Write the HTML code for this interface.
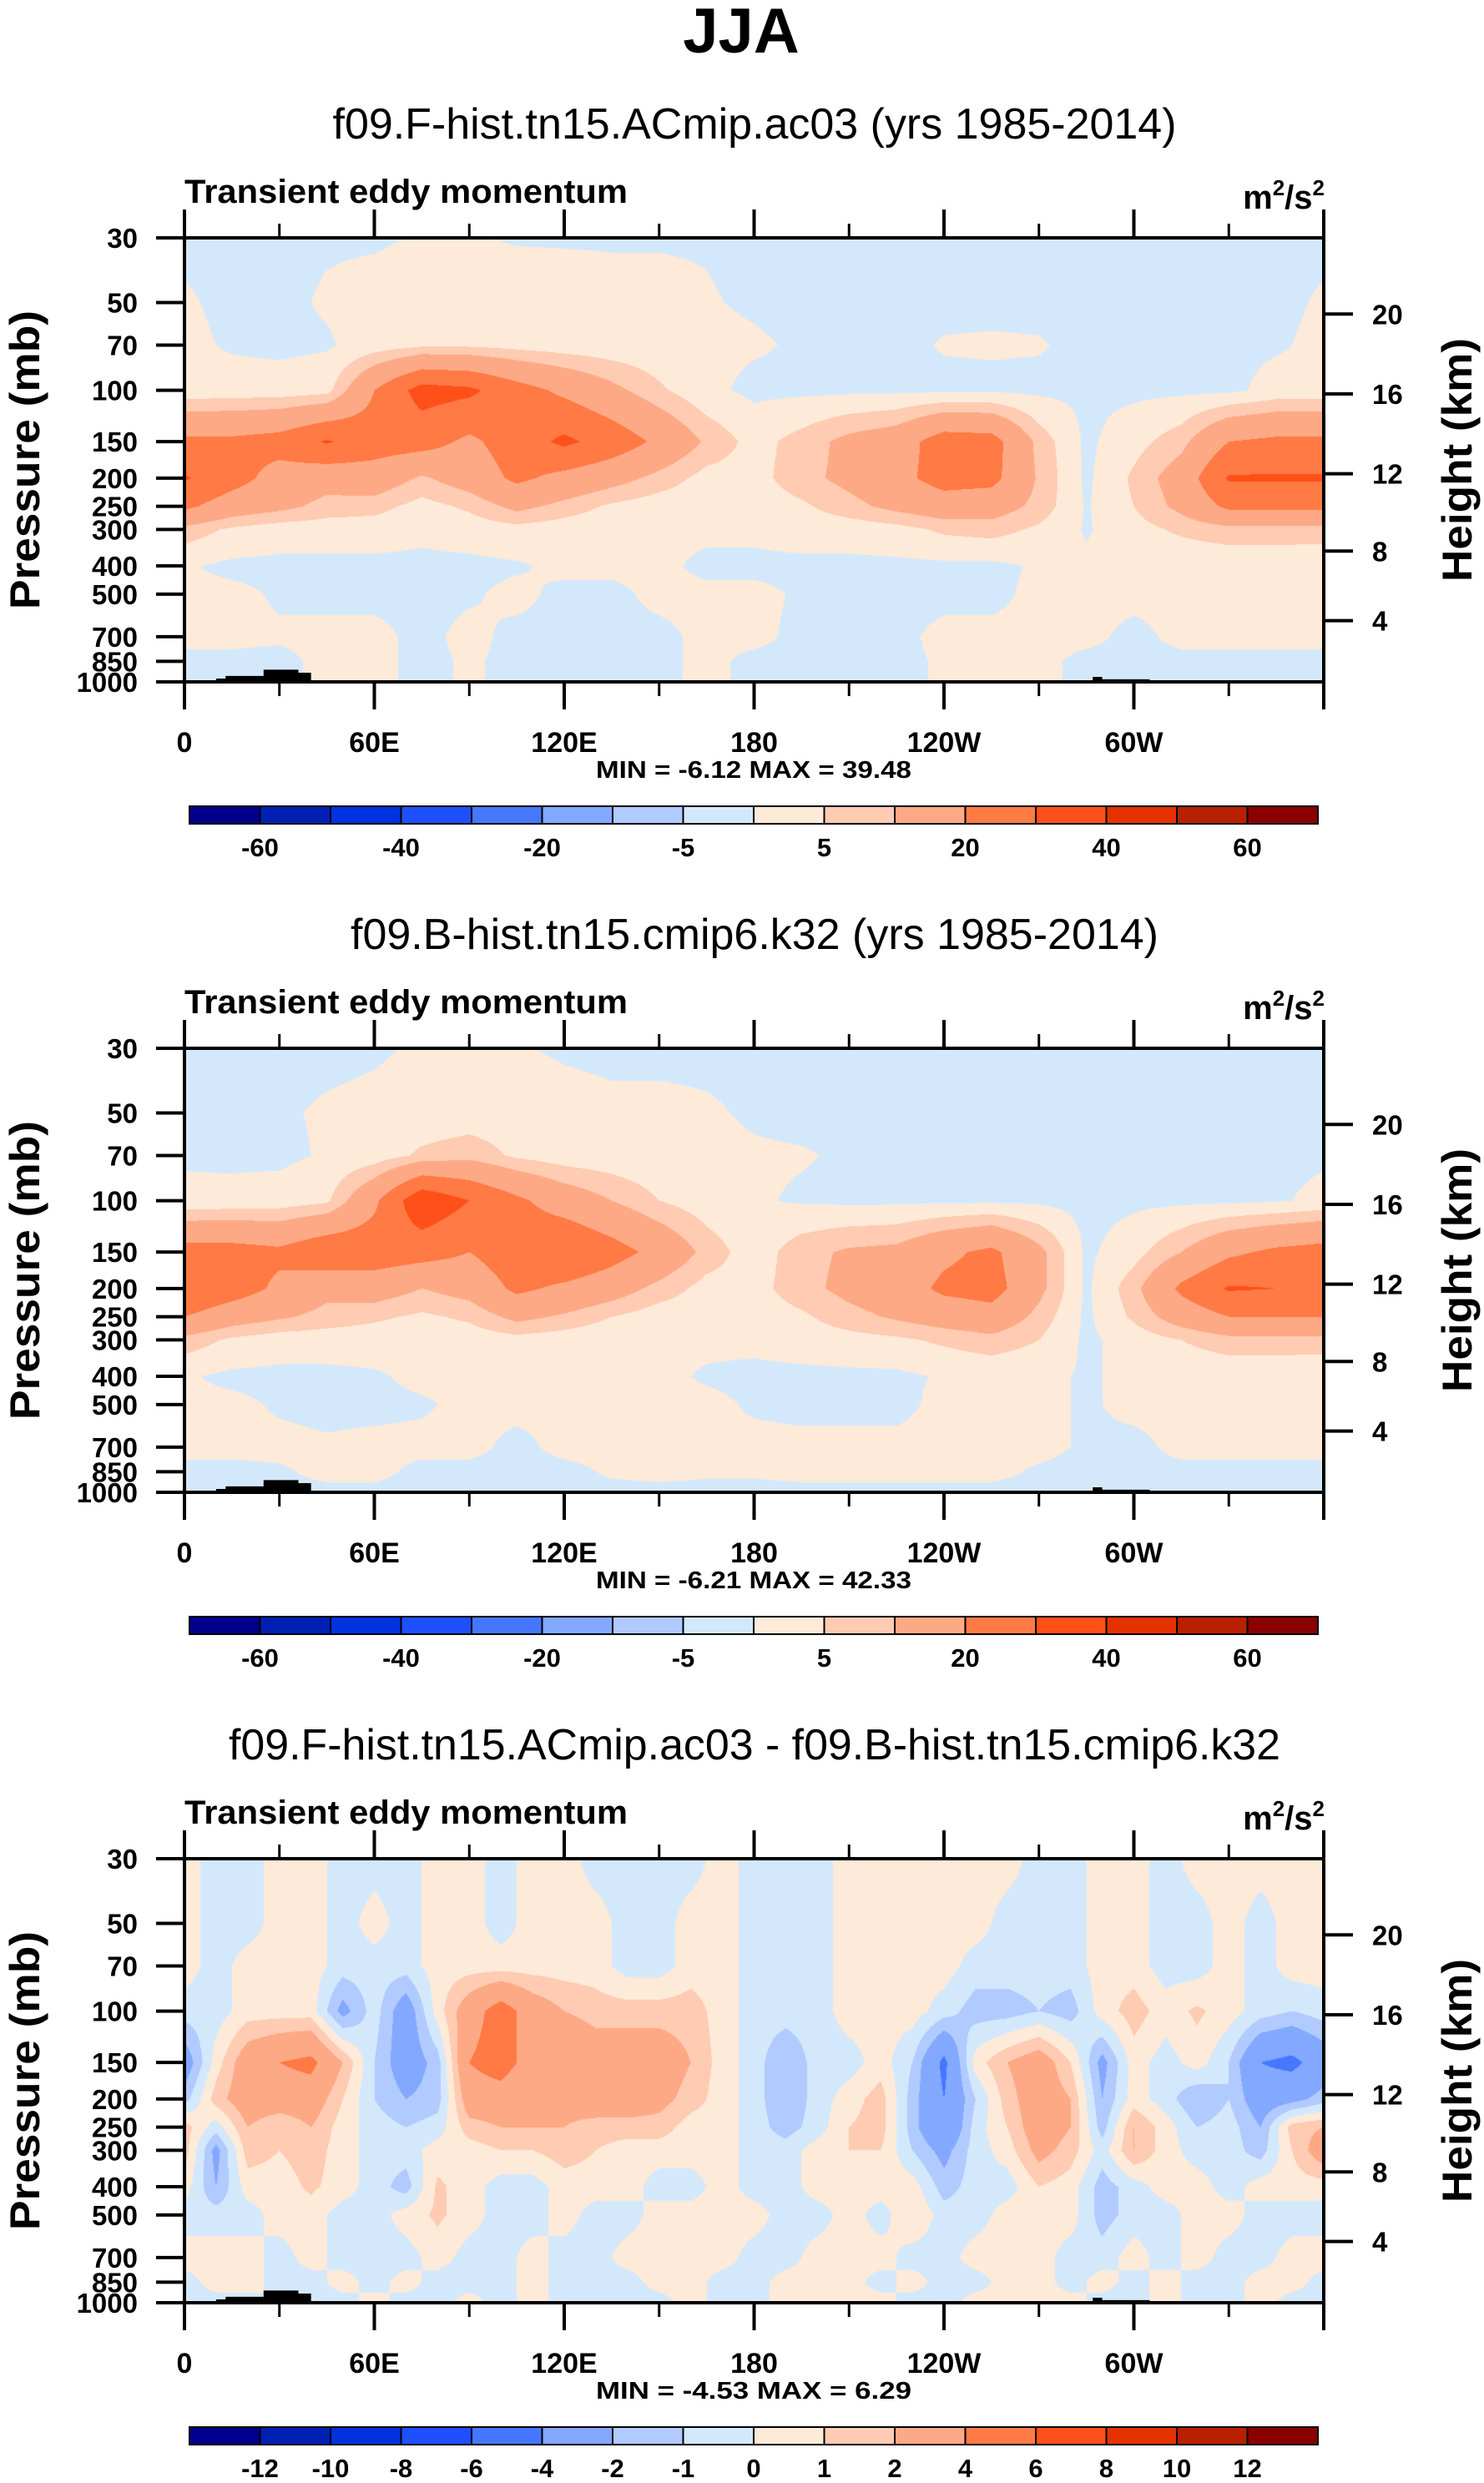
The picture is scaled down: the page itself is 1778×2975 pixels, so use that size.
<!DOCTYPE html>
<html><head><meta charset="utf-8"><style>
html,body{margin:0;padding:0;background:#fff;}
#wrap{position:relative;width:1778px;height:2975px;overflow:hidden;background:#fff;}
canvas{position:absolute;}
svg{position:absolute;left:0;top:0;}
</style></head><body>
<div id="wrap">
<svg id="ov" width="1778" height="2975" xmlns="http://www.w3.org/2000/svg">
<text x="888" y="63" text-anchor="middle" font-family="Liberation Sans, sans-serif" font-weight="bold" font-size="76">JJA</text>
</svg>
</div>
<script>
const levelsP = [30,50,70,100,150,200,250,300,400,500,700,850,1000];
const pressureTicks = [30,50,70,100,150,200,250,300,400,500,700,850,1000];
const heightTicks = [4,8,12,16,20];
const lonMajor = [0,60,120,180,240,300,360];
const lonMajorLabels = ["0","60E","120E","180","120W","60W",""];
const lonMinor = [30,90,150,210,270,330];
const colors = ["#00008c","#0020b4","#0032e0","#1e50ff","#4678ff","#82a8ff","#b1caff","#d4e8fc","#feead8","#ffcbb3","#fea985","#ff7a45","#ff5019","#e53200","#b82000","#8b0000"];
const levelsAbs = [-60,-50,-40,-30,-20,-10,-5,0,5,10,20,30,40,50,60];
const labelsAbs = ["-60","","-40","","-20","","-5","","5","","20","","40","","60"];
const levelsDiff = [-12,-10,-8,-6,-4,-2,-1,0,1,2,4,6,8,10,12];
const labelsDiff = ["-12","-10","-8","-6","-4","-2","-1","0","1","2","4","6","8","10","12"];
const subtitles = ["f09.F-hist.tn15.ACmip.ac03 (yrs 1985-2014)","f09.B-hist.tn15.cmip6.k32 (yrs 1985-2014)","f09.F-hist.tn15.ACmip.ac03 - f09.B-hist.tn15.cmip6.k32"];
const subtitleWidths = [1011, 968, 1260];
const minMaxText = ["MIN =  -6.12  MAX =  39.48","MIN =  -6.21  MAX =  42.33","MIN =  -4.53  MAX =   6.29"];
const topoLon = [10,13,25,36,40,41,100,103,287,290,305];
const topoP =   [974,954,908,930,1000,1000,990,1000,961,980,1000];

const field1 = [
[-1,-1,-1,-0.5,-0.5,0.3,0.3,-0.3,-0.3,-0.3,-0.3,-0.3,-1,-1,-1,-1,-1,-1,-1,-1,-1,-1,-1,-1,-1],
[0.5,-1,-1,0.5,1.5,2,2,2,1.5,1,1,0.3,-0.5,-1,-1,-1,-1,-1,-1,-1,-1,-1,-1,-1,0.5],
[1,-0.5,-1,-0.5,2,4,4,3,2,1.5,1,1,0.5,-0.5,-1,-1,0.3,0.5,0.3,-1,-1,-1,-1,-0.5,1],
[1.5,2,2,3,20,34,32,24,18,12,6,1,-1,-1,-1,-1,-1,-1,-1,-1,-1,-1,-1,1.5,1.5],
[22,22,24,31,25,24,18,25,32,26,18,9,3,7,12,15,25,24,8,-1,3,8,20,22,22],
[31,24,16,13,15,9,14,22,17,13,8,3,3,8,12,17,24,23,9,-1,6,14,31,31,31],
[22,15,12,8,7,3,6,12,8,4,2,2,2,4,8,12,15,14,8,-0.5,5,12,22,22,22],
[8,4,2,2,2,1,2,3,2,1,1,1,1,2,2,3,6,7,4,-0.5,3,6,8,8,8],
[0.5,-1,-1,-1,-1,-1,-1,-0.5,1,1,1,-1,-1,-1,-1,-1,-1,-1,0.5,1,1,1,1,1,0.5],
[1,1,-0.5,-1,-1,-1,-0.5,1,-1,-1,1,1,1,-0.5,-1,-1,-1,-1,1,1,1,1,1,1,1],
[1,1,0.5,1,1,-1,1,-1,-1,-1,-1,1,1,-1,-1,-1,1,1,1,1,-1,1,1,1,1],
[-1,-1,-1,1,1,-1,0.5,-1,-1,-1,-1,1,-1,-1,-1,-1,0.5,1,1,-1,-1,-1,-1,-1,-1],
[-1,-1,-1,1,1,-1,0.5,-1,-1,-1,-1,1,-1,-1,-1,-1,0.5,1,1,-1,-1,-1,-1,-1,-1]
];
const field2 = [
[-1,-1,-1,-1,-0.5,0.5,0.5,0.3,-0.5,-1,-1,-1,-1,-1,-1,-1,-1,-1,-1,-1,-1,-1,-1,-1,-1],
[-1,-1,-0.5,0.5,1,1.5,2,2,1.5,1,1,0.5,-0.5,-1,-1,-1,-1,-1,-1,-1,-1,-1,-1,-1,-1],
[-0.5,-1,-1,0.5,2,6,8,4,2,1.5,1,1,0.5,0.3,-0.5,-1,-1,-1,-1,-1,-1,-1,-1,-1,-0.5],
[1,1.5,2,4,18,38,30,22,15,10,5,2,0.5,-0.5,-1,-1,-1,-1,-1,-1.5,-1,-1,-1,-0.5,1],
[24,24,22,28,26,24,20,26,30,24,17,8,2,8,11,12,18,22,12,-1,3,10,18,22,24],
[30,25,18,12,14,10,13,22,18,14,8,3,3,8,12,15,22,24,12,-1,8,22,31,30,30],
[20,14,11,8,6,4,6,12,9,5,2,2,2,4,8,11,14,16,8,-1,6,14,20,20,20],
[8,4,2,2,2,1.5,2,3,2,1,1,1,1,2,3,4,6,8,5,-1,2,5,8,8,8],
[0.5,-1,-1,-1,-0.5,1,1,0.5,1,1,1,-0.5,-1,-1,-1,-1,0.5,1,1,-0.5,1,1,1,1,0.5],
[1,1,-0.5,-1,-1,-0.5,1,1,1,1,1,1,-0.5,-1,-1,-1,1,1,1,-0.5,1,1,1,1,1],
[1,1,1,0.5,1,1,1,-1,1,1,1,1,1,1,1,1,1,1,1,-0.5,-1,1,1,1,1],
[-1,-1,-0.5,1,1,-1,-1,-1,-1,0.5,1,0.5,0.5,1,1,1,1,1,-0.5,-1,-1,-1,-1,-1,-1],
[-1,-1,-1,-1,-1,-1,-1,-1,-1,-1,-1,-1,-1,-1,-1,-1,-1,-1,-1,-1,-1,-1,-1,-1,-1]
];
const field3 = [
[0.5,-0.5,-0.5,0.5,0.5,-0.5,-0.5,-0.5,0.5,0.5,-0.5,0.5,0.5,-0.5,-0.5,-0.5,-0.5,0.5,-0.5,-0.5,-0.5,0.5,0.5,0.5,0.5,0.5,0.5,-0.5,-0.5,0.5,0.5,-0.5,0.5,0.5,0.5,0.5,0.5],
[0.5,-0.5,-0.5,0.5,0.5,-0.5,0.5,-0.5,0.5,0.5,-0.5,0.5,0.5,0.5,-0.5,-0.5,0.5,0.5,-0.5,-0.5,-0.5,0.5,0.5,0.5,0.5,0.5,-0.5,-0.5,-0.5,0.5,0.5,-0.5,-0.5,0.5,-0.5,0.5,0.5],
[0.5,-0.5,0.5,0.5,0.5,-0.5,-0.5,-0.5,0.5,0.5,0.5,0.5,0.5,0.5,-0.5,-0.5,0.5,0.5,-0.5,-0.5,-0.5,0.5,0.5,0.5,0.5,-0.5,-0.5,-0.5,-0.5,0.5,0.5,-0.5,-0.5,0.5,-0.5,0.5,0.5],
[-0.5,-0.5,0.5,0.5,0.5,-2.5,-0.5,-3,0.5,3,5,3,2,1.5,1.5,1.5,1.5,0.5,-0.5,-0.5,-0.5,0.5,0.5,0.5,-0.5,-1.5,-1.5,-1,-1.5,0.5,1.5,0.5,1.2,0.5,-0.5,-1,-0.5],
[-3,0.5,3,4,4.5,2,-1,-3,-1.5,4,5,3,4,3,3,3,2,0.5,-0.5,-2,-0.5,-0.5,0.5,-1,-4.5,0.5,2,3,1,-2.5,0.5,-0.5,0.5,-1,-4,-4.5,-3],
[-1.5,1.5,3,3,3,1,-1,-2,-1.5,3,3,2,2.5,3,3,2.5,1.5,0.5,-0.5,-2,-0.5,0.5,1.5,-1.5,-4,-1,1.5,3,2,-2,0.5,-0.5,-2,-1,-3,-2.5,-1.5],
[1.5,-0.5,2,1,2,0.5,-0.5,-1,-0.5,1.5,2,2,2,1.5,1.5,1.5,0.5,0.5,-0.5,-1.5,-0.5,1,1.5,-1.5,-4,-0.5,1,3,2,-1.5,2,0.5,-1,-0.5,-2,1.5,2],
[1.5,-2.5,1.5,1,1.5,0.5,-0.5,-0.5,0.5,0.5,1,1,1.5,1,0.5,0.5,0.5,0.5,-0.5,-0.5,0.5,1,1,-1,-2.5,-0.5,0.5,2.5,1.5,-0.5,2,0.5,-0.5,-0.5,-1.5,1,3],
[0.5,-2,0.5,0.5,1.2,0.5,-0.5,-1.5,1.2,0.5,-0.5,-0.5,0.5,0.5,0.5,-0.5,-0.5,0.5,-0.5,-0.5,0.5,0.5,0.5,0.5,-1.5,-0.5,-0.5,1,0.5,-1.5,-0.5,0.5,0.5,-0.5,0.5,0.5,0.5],
[-0.5,-0.5,-0.5,0.5,0.5,-0.5,-0.5,0.5,1.2,0.5,-0.5,-0.5,0.5,-0.5,-0.5,0.5,0.5,0.5,0.5,-0.5,-0.5,0.5,-0.5,1,-0.5,-0.5,0.5,0.5,0.5,-1.5,-0.5,-0.5,0.5,0.5,-0.5,-0.5,-0.5],
[0.5,0.5,0.5,-0.5,0.5,-0.5,-0.5,-0.5,0.5,-0.5,-0.5,0.5,-0.5,-0.5,0.5,0.5,0.5,0.5,-0.5,-0.5,0.5,0.5,0.5,-0.5,-0.5,0.5,0.5,0.5,-0.5,-0.5,0.5,-0.5,0.5,-0.5,-0.5,0.5,0.5],
[-0.5,0.5,0.5,-0.5,-0.5,0.5,-0.5,0.5,-0.5,-0.5,-0.5,0.5,-0.5,-0.5,-0.5,0.5,0.5,-0.5,-0.5,0.5,0.5,0.5,-0.5,0.5,-0.5,-0.5,0.5,0.5,-0.5,0.5,-0.5,0.5,-0.5,-0.5,0.5,0.5,-0.5],
[-0.5,-0.5,-0.5,0.5,-0.5,-0.5,0.5,-0.5,-0.5,0.5,-0.5,0.5,-0.5,-0.5,-0.5,-0.5,0.5,-0.5,-0.5,0.5,0.5,0.5,0.5,-0.5,-0.5,0.5,0.5,0.5,0.5,-0.5,-0.5,0.5,-0.5,-0.5,0.5,-0.5,-0.5]
];

const X0=221, W=1365, Y0=285, H=532, DY=971;
const LN = Math.log(1000/30);
function xScale(lon){ return X0 + lon/360*W; }
function yScale(p, k){ return Y0 + k*DY + Math.log(p/30)/LN*H; }
function pFromZ(km){ const z=km*1000; return z<=11000 ? 1013.25*Math.pow(1-2.25577e-5*z,5.25588) : 226.32*Math.exp(-(z-11000)/6341.6); }
const svgNS="http://www.w3.org/2000/svg";
const ov=document.getElementById('ov');
const FONT="Liberation Sans, sans-serif";
function el(tag, attrs){ const e=document.createElementNS(svgNS,tag); for(const a in attrs) e.setAttribute(a,attrs[a]); ov.appendChild(e); return e; }
function txt(s, attrs){ const e=el('text', Object.assign({'font-family':FONT}, attrs)); e.textContent=s; return e; }

function binIndex(v, lv){ let i=0; while(i<lv.length && v>=lv[i]) i++; return i; }
function rgb(h){ return [parseInt(h.slice(1,3),16),parseInt(h.slice(3,5),16),parseInt(h.slice(5,7),16)]; }
const rgbColors = colors.map(rgb);
const logLv = levelsP.map(p=>Math.log(p));

function drawField(k, field, lv){
  const cv=document.createElement('canvas');
  
  
  cv.width=W; cv.height=H;
  cv.style.left=X0+'px'; cv.style.top=(Y0+k*DY)+'px';
  document.getElementById('wrap').insertBefore(cv, ov);
  const ctx=cv.getContext('2d');
  const img=ctx.createImageData(W,H);
  const ncol=field[0].length, step=360/(ncol-1);
  for(let py=0; py<H; py++){
    const lp=Math.log(30)+ (py+0.5)/H*LN;
    let r=0; while(r<logLv.length-2 && lp>logLv[r+1]) r++;
    let fr=(lp-logLv[r])/(logLv[r+1]-logLv[r]); fr=Math.max(0,Math.min(1,fr));
    const ra=field[r], rb=field[r+1];
    for(let px=0; px<W; px++){
      const lon=(px+0.5)/W*360;
      let c=Math.min(ncol-2, Math.floor(lon/step));
      const fc=lon/step - c;
      const v=(ra[c]*(1-fc)+ra[c+1]*fc)*(1-fr)+(rb[c]*(1-fc)+rb[c+1]*fc)*fr;
      const col=rgbColors[binIndex(v,lv)];
      const o=(py*W+px)*4;
      img.data[o]=col[0]; img.data[o+1]=col[1]; img.data[o+2]=col[2]; img.data[o+3]=255;
    }
  }
  ctx.putImageData(img,0,0);
}

function drawPanel(k, field, lv, labels){
  const oy=k*DY;
  drawField(k, field, lv);
  let d='M'+xScale(topoLon[0])+','+yScale(1000,k);
  for(let i=0;i<topoLon.length;i++){
    const x0=xScale(topoLon[i]);
    const x1= i<topoLon.length-1 ? xScale(topoLon[i+1]) : x0;
    const y=yScale(topoP[i],k);
    d+=' L'+x0+','+y+' L'+x1+','+y;
  }
  d+=' L'+xScale(topoLon[topoLon.length-1])+','+yScale(1000,k)+' Z';
  const tp=el('path',{d:d,fill:'#000'});
  
  

  const st=txt(subtitles[k],{x:904,y:166+oy,'text-anchor':'middle','font-size':52,textLength:subtitleWidths[k],lengthAdjust:'spacingAndGlyphs'});
  
  
  const lt=txt('Transient eddy momentum',{x:221,y:243+oy,'font-size':40,'font-weight':'bold',textLength:531,lengthAdjust:'spacingAndGlyphs'});
  
  
  const un=el('text',{x:1587,y:250+oy,'text-anchor':'end','font-family':FONT,'font-size':40,'font-weight':'bold'});
  un.innerHTML='m<tspan dy="-16" font-size="26">2</tspan><tspan dy="16">/s</tspan><tspan dy="-16" font-size="26">2</tspan>';
  
  

  const bx=el('rect',{x:X0,y:Y0+oy,width:W,height:H,fill:'none',stroke:'#000','stroke-width':4});
  
  
  lonMajor.forEach((lon,i)=>{
    const x=xScale(lon);
    const t1=el('line',{x1:x,x2:x,y1:Y0+oy-34,y2:Y0+oy,stroke:'#000','stroke-width':4});
    
    
    const t2=el('line',{x1:x,x2:x,y1:Y0+H+oy,y2:Y0+H+oy+33,stroke:'#000','stroke-width':4});
    
    
    if(lonMajorLabels[i]){
      const l=txt(lonMajorLabels[i],{x:x,y:Y0+H+oy+84,'text-anchor':'middle','font-size':34,'font-weight':'bold'});
      
      
    }
  });
  lonMinor.forEach(lon=>{
    const x=xScale(lon);
    const t1=el('line',{x1:x,x2:x,y1:Y0+oy-17,y2:Y0+oy,stroke:'#000','stroke-width':3});
    
    
    const t2=el('line',{x1:x,x2:x,y1:Y0+H+oy,y2:Y0+H+oy+17,stroke:'#000','stroke-width':3});
    
    
  });
  pressureTicks.forEach(p=>{
    const y=yScale(p,k);
    const t=el('line',{x1:X0-34,x2:X0,y1:y,y2:y,stroke:'#000','stroke-width':4});
    
    
    const l=txt(String(p),{x:165,y:y+12,'text-anchor':'end','font-size':33,'font-weight':'bold'});
    
    
  });
  heightTicks.forEach(km=>{
    const y=yScale(pFromZ(km),k);
    const t=el('line',{x1:X0+W,x2:X0+W+35,y1:y,y2:y,stroke:'#000','stroke-width':4});
    
    
    const l=txt(String(km),{x:1644,y:y+12,'font-size':33,'font-weight':'bold'});
    
    
  });
  const yt=txt('Pressure (mb)',{x:0,y:0,'text-anchor':'middle','font-size':50,'font-weight':'bold',textLength:358,lengthAdjust:'spacingAndGlyphs',transform:'translate(47,'+(551+oy)+') rotate(-90)'});
  
  
  const ht=txt('Height (km)',{x:0,y:0,'text-anchor':'middle','font-size':50,'font-weight':'bold',textLength:292,lengthAdjust:'spacingAndGlyphs',transform:'translate(1763,'+(551+oy)+') rotate(-90)'});
  
  
  const mm=txt(minMaxText[k],{x:903,y:932+oy,'text-anchor':'middle','font-size':29,'font-weight':'bold',textLength:378,lengthAdjust:'spacingAndGlyphs','xml:space':'preserve'});
  
  
  const cbX=227, cbW=1352, cbY=966+oy, cbH=21, bw=cbW/colors.length;
  colors.forEach((c,i)=>{
    const r=el('rect',{x:cbX+i*bw,y:cbY,width:bw,height:cbH,fill:c,stroke:'#000','stroke-width':2});
    
    
  });
  labels.forEach((s,i)=>{
    if(!s) return;
    const l=txt(s,{x:cbX+(i+1)*bw,y:1026+oy,'text-anchor':'middle','font-size':31,'font-weight':'bold'});
    
    
  });
}
drawPanel(0, field1, levelsAbs, labelsAbs);
drawPanel(1, field2, levelsAbs, labelsAbs);
drawPanel(2, field3, levelsDiff, labelsDiff);
</script>
</body></html>
